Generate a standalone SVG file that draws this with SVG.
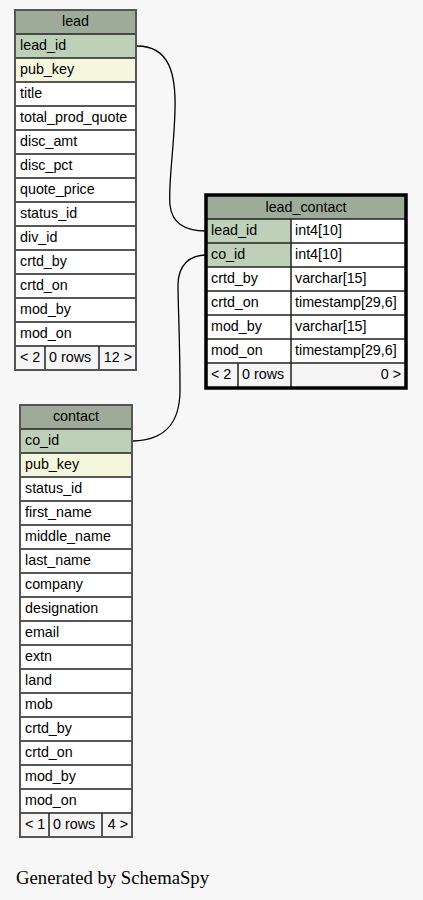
<svg xmlns="http://www.w3.org/2000/svg" width="423" height="900" viewBox="0 0 423 900">
<style>
.bg{fill:#f7f7f7}
.hd{fill:#9eab98}
.key{fill:#bed1b8}
.idx{fill:#f4f7dd}
.row{fill:#ffffff}
.ft{fill:#f5f5f5}
.sep{stroke:#222;stroke-width:1.5;fill:none}
.out{fill:none;stroke:#555;stroke-width:2}
.outf{fill:none;stroke:#000;stroke-width:3.5}
text{font-family:"Liberation Sans",Arial,sans-serif;font-size:14.3px;fill:#000}
.c{text-anchor:middle}
.e{text-anchor:end}
.gen{font-family:"Liberation Serif","Times New Roman",serif;font-size:18.7px}
.edge{fill:none;stroke:#000;stroke-width:1.3}
</style>
<rect class="bg" x="0" y="0" width="423" height="900"/>

<g id="connectors">
<path class="edge" d="M137,46 C170,46 176,75 175,110 C174,150 168,185 170,205 C172,225 188,231 206,231"/>
<path class="edge" d="M133,441 C168,440 180,420 180,390 C180,340 178,305 178,285 C178,265 190,255 206,255"/>
</g>

<g id="lead">
<rect class="hd" x="15" y="10" width="121" height="24"/>
<rect class="key" x="15" y="34" width="121" height="24"/>
<rect class="idx" x="15" y="58" width="121" height="24"/>
<rect class="row" x="15" y="82" width="121" height="264"/>
<rect class="ft" x="15" y="346" width="121" height="24"/>
<path class="sep" d="M15,34H136M15,58H136M15,82H136M15,106H136M15,130H136M15,154H136M15,178H136M15,202H136M15,226H136M15,250H136M15,274H136M15,298H136M15,322H136M15,346H136M45,346V370M99,346V370"/>
<rect class="out" x="15" y="10" width="121" height="360"/>
<text class="c" x="75.5" y="26">lead</text>
<text x="20" y="50">lead_id</text>
<text x="20" y="74">pub_key</text>
<text x="20" y="98">title</text>
<text x="20" y="122">total_prod_quote</text>
<text x="20" y="146">disc_amt</text>
<text x="20" y="170">disc_pct</text>
<text x="20" y="194">quote_price</text>
<text x="20" y="218">status_id</text>
<text x="20" y="242">div_id</text>
<text x="20" y="266">crtd_by</text>
<text x="20" y="290">crtd_on</text>
<text x="20" y="314">mod_by</text>
<text x="20" y="338">mod_on</text>
<text x="20" y="362">&lt; 2</text>
<text x="49" y="362">0 rows</text>
<text class="e" x="132" y="362">12 &gt;</text>
</g>

<g id="lead_contact">
<rect class="hd" x="206" y="195" width="200" height="24"/>
<rect class="key" x="206" y="219" width="85" height="48"/>
<rect class="row" x="291" y="219" width="115" height="48"/>
<rect class="row" x="206" y="267" width="200" height="96"/>
<rect class="ft" x="206" y="363" width="200" height="24"/>
<path class="sep" d="M206,219H406M206,243H406M206,267H406M206,291H406M206,315H406M206,339H406M206,363H406M291,219V387M238,363V387"/>
<rect class="outf" x="206" y="195" width="200" height="193"/>
<text class="c" x="306" y="212">lead_contact</text>
<text x="211" y="235">lead_id</text>
<text x="295" y="235">int4[10]</text>
<text x="211" y="259">co_id</text>
<text x="295" y="259">int4[10]</text>
<text x="211" y="283">crtd_by</text>
<text x="295" y="283">varchar[15]</text>
<text x="211" y="307">crtd_on</text>
<text x="295" y="307">timestamp[29,6]</text>
<text x="211" y="331">mod_by</text>
<text x="295" y="331">varchar[15]</text>
<text x="211" y="355">mod_on</text>
<text x="295" y="355">timestamp[29,6]</text>
<text x="211" y="379">&lt; 2</text>
<text x="242" y="379">0 rows</text>
<text class="e" x="401" y="379">0 &gt;</text>
</g>

<g id="contact">
<rect class="hd" x="20" y="405" width="112" height="24"/>
<rect class="key" x="20" y="429" width="112" height="24"/>
<rect class="idx" x="20" y="453" width="112" height="24"/>
<rect class="row" x="20" y="477" width="112" height="336"/>
<rect class="ft" x="20" y="813" width="112" height="24"/>
<path class="sep" d="M20,429H132M20,453H132M20,477H132M20,501H132M20,525H132M20,549H132M20,573H132M20,597H132M20,621H132M20,645H132M20,669H132M20,693H132M20,717H132M20,741H132M20,765H132M20,789H132M20,813H132M49,813V837M102,813V837"/>
<rect class="out" x="20" y="405" width="112" height="432"/>
<text class="c" x="76" y="421">contact</text>
<text x="25" y="445">co_id</text>
<text x="25" y="469">pub_key</text>
<text x="25" y="493">status_id</text>
<text x="25" y="517">first_name</text>
<text x="25" y="541">middle_name</text>
<text x="25" y="565">last_name</text>
<text x="25" y="589">company</text>
<text x="25" y="613">designation</text>
<text x="25" y="637">email</text>
<text x="25" y="661">extn</text>
<text x="25" y="685">land</text>
<text x="25" y="709">mob</text>
<text x="25" y="733">crtd_by</text>
<text x="25" y="757">crtd_on</text>
<text x="25" y="781">mod_by</text>
<text x="25" y="805">mod_on</text>
<text x="25" y="829">&lt; 1</text>
<text x="53" y="829">0 rows</text>
<text class="e" x="128" y="829">4 &gt;</text>
</g>

<text class="gen" x="16" y="884">Generated by SchemaSpy</text>
</svg>
